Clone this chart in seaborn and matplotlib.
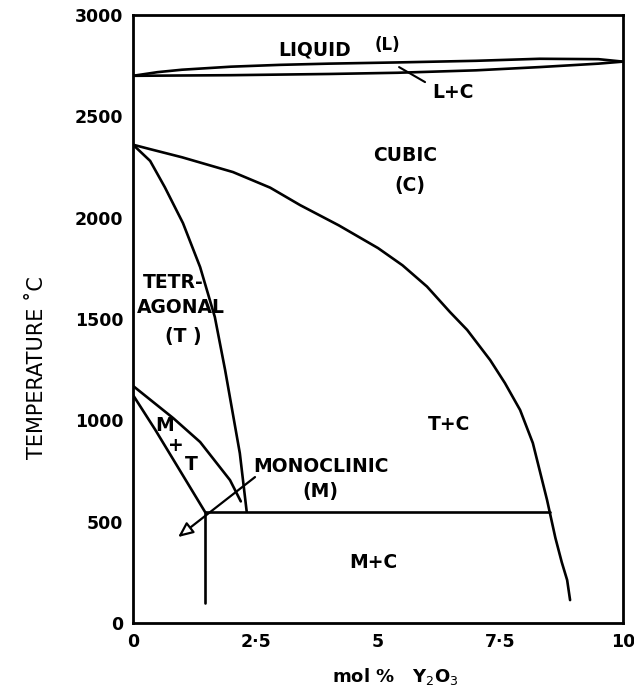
import matplotlib
matplotlib.use("Agg")
import matplotlib.pyplot as plt
import seaborn as sns
import pandas as pd

# ---- data (mol % Y2O3, temperature °C) ----
liquidus_x = [0, 0.5, 1, 2, 3, 4, 5.4, 7, 8.3, 9.5, 10]
liquidus_T = [2700, 2718, 2730, 2745, 2754, 2760, 2766, 2774, 2784, 2782, 2770]
solidus_x = [0, 2, 4, 5.4, 7, 8.3, 9.5, 10]
solidus_T = [2700, 2703, 2709, 2715, 2727, 2743, 2760, 2770]
cubic_x = [0, 0.35, 1.0, 2.04, 2.8, 3.41, 4.2, 5.0, 5.5, 6.0, 6.47, 6.82, 7.29, 7.59, 7.9, 8.16, 8.45, 8.62, 8.75, 8.86, 8.92]
cubic_T = [2360, 2338, 2298, 2225, 2148, 2062, 1962, 1850, 1765, 1660, 1534, 1446, 1297, 1184, 1051, 888, 607, 420, 300, 212, 113]
tetra_x = [0, 0.35, 0.65, 1.02, 1.37, 1.67, 1.88, 2.18, 2.32]
tetra_T = [2360, 2280, 2150, 1973, 1756, 1510, 1248, 838, 550]
mt_upper_x = [0, 0.82, 1.37, 1.98, 2.2]
mt_upper_T = [1170, 1011, 893, 705, 600]
mt_lower_x = [0, 0.45, 1.47]
mt_lower_T = [1125, 955, 548]
eutectoid_x = [1.47, 8.5]
eutectoid_T = [548, 548]
vertical_x = [1.47, 1.47]
vertical_T = [548, 100]

x_ticks = [0, 2.5, 5, 7.5, 10]
x_ticklabels = ["0", "2·5", "5", "7·5", "10"]
y_ticks = [0, 500, 1000, 1500, 2000, 2500, 3000]
y_ticklabels = ["0", "500", "1000", "1500", "2000", "2500", "3000"]

boundaries = {
    "liquidus": (liquidus_x, liquidus_T),
    "solidus": (solidus_x, solidus_T),
    "cubic": (cubic_x, cubic_T),
    "tetragonal": (tetra_x, tetra_T),
    "mt_upper": (mt_upper_x, mt_upper_T),
    "mt_lower": (mt_lower_x, mt_lower_T),
    "eutectoid": (eutectoid_x, eutectoid_T),
    "vertical": (vertical_x, vertical_T),
}
rows = []
for name, (xs, ts) in boundaries.items():
    for i, (xv, tv) in enumerate(zip(xs, ts)):
        rows.append({"boundary": name, "order": i, "x": xv, "T": tv})
df = pd.DataFrame(rows)

sns.set_style("white")
plt.rcParams["font.family"] = ["DejaVu Sans"]
plt.rcParams["text.color"] = "black"
plt.rcParams["axes.labelcolor"] = "black"
plt.rcParams["xtick.color"] = "black"
plt.rcParams["ytick.color"] = "black"

W, H = 634, 697
fig = plt.figure(figsize=(W / 100, H / 100), dpi=100)
ax = fig.add_axes([133 / W, 1 - 623 / H, (623 - 133) / W, (623 - 15) / H])

sns.lineplot(data=df, x="x", y="T", units="boundary", estimator=None, sort=False,
             color="black", linewidth=1.9, ax=ax, legend=False)

ax.set_xlim(0, 10)
ax.set_ylim(0, 3000)
ax.set_xticks(x_ticks)
ax.set_xticklabels(x_ticklabels, fontsize=12.5, fontweight="bold")
ax.set_yticks(y_ticks)
ax.set_yticklabels(y_ticklabels, fontsize=12.5, fontweight="bold")
ax.tick_params(direction="in", length=8, width=1.5, pad=7, color="black")
for s in ax.spines.values():
    s.set_linewidth(2)
    s.set_color("black")

ax.set_xlabel("mol %   Y$_2$O$_3$", fontsize=13, fontweight="bold")
ax.xaxis.set_label_coords(0.535, -0.07)
ax.set_ylabel("TEMPERATURE ˚C", fontsize=15)
ax.yaxis.set_label_coords(-0.175, 0.42)

fs = 13.5
fw = "bold"
ax.text(3.7, 2827, "LIQUID", fontsize=fs, fontweight=fw, ha="center", va="center")
ax.text(5.2, 2850, "(L)", fontsize=12, fontweight=fw, ha="center", va="center")
ax.text(6.53, 2620, "L+C", fontsize=fs, fontweight=fw, ha="center", va="center")
ax.plot([5.43, 5.96], [2743, 2669], color="black", lw=1.5)
ax.text(5.55, 2309, "CUBIC", fontsize=fs, fontweight=fw, ha="center", va="center")
ax.text(5.65, 2161, "(C)", fontsize=fs, fontweight=fw, ha="center", va="center")
ax.text(0.2, 1682, "TETR-", fontsize=fs, fontweight=fw, ha="left", va="center")
ax.text(0.08, 1559, "AGONAL", fontsize=fs, fontweight=fw, ha="left", va="center")
ax.text(1.02, 1416, "(T )", fontsize=fs, fontweight=fw, ha="center", va="center")
ax.text(6.45, 977, "T+C", fontsize=fs, fontweight=fw, ha="center", va="center")
ax.text(2.45, 770, "MONOCLINIC", fontsize=fs, fontweight=fw, ha="left", va="center")
ax.text(3.82, 651, "(M)", fontsize=fs, fontweight=fw, ha="center", va="center")
ax.text(0.65, 974, "M", fontsize=fs, fontweight=fw, ha="center", va="center")
ax.text(0.87, 878, "+", fontsize=fs, fontweight=fw, ha="center", va="center")
ax.text(1.2, 781, "T", fontsize=fs, fontweight=fw, ha="center", va="center")
ax.text(4.9, 300, "M+C", fontsize=fs, fontweight=fw, ha="center", va="center")

ax.annotate("", xy=(0.92, 424), xytext=(2.49, 720),
            arrowprops=dict(arrowstyle="-|>,head_length=0.9,head_width=0.4",
                            fc="white", ec="black", lw=1.6, shrinkA=0, shrinkB=0))

fig.savefig("out.png", dpi=100)
